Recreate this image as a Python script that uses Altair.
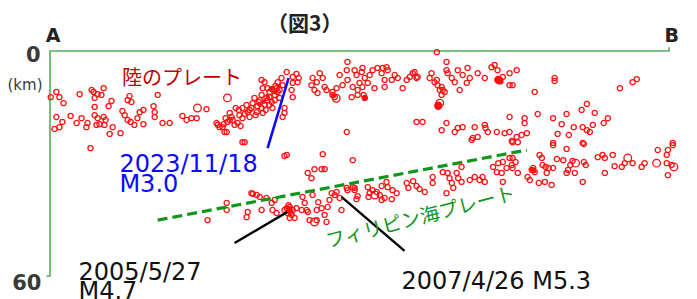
import altair as alt
import pandas as pd

# ---- hypocentres: (distance along A-B in km, depth in km) ----
upper_west = [(0.2,12.3),(1.7,10.9),(2.5,12.3),(3.6,13.9),(7.9,11.5),(11.1,10.4),(11.6,10.9),(12.7,11.5),
              (11.9,12.5),(14.3,9.9),(13.7,11.7),(11.9,14.9),(16.4,13.3),(15.6,14.7),(21.2,12.0),(20.7,13.1),
              (21.7,13.6),(28.7,11.7),(27.6,14.7),(1.7,17.6),(3.3,18.9),(2.5,20.3),(1.2,20.8),(5.5,17.3),
              (7.1,19.2),(8.4,17.9),(10.0,19.2),(9.7,20.3),(11.9,17.1),(12.7,17.9),(14.3,17.6),(14.8,18.4),
              (12.4,19.7),(13.2,19.5),(14.5,19.7),(16.7,20.3),(15.9,22.1),(18.8,21.9),(19.3,16.0),(19.9,17.1),
              (20.7,18.4),(21.5,18.9),(23.3,17.9),(23.9,16.3),(24.9,15.7),(22.5,19.7),(24.9,19.5),(27.9,16.3),
              (27.9,17.6),(30.0,19.2),(31.9,19.2),(35.3,17.3),(36.4,18.4),(37.7,17.9),(39.1,17.9),(10.8,25.9),
              (41.7,15.5)]
upper_cluster = [(44.4,19.2),(45.2,20.3),(46.5,21.6),(46.3,19.5),(47.3,18.9),(48.4,17.6),(47.9,16.5),(48.7,18.4),
                 (50.0,19.2),(50.8,20.0),(49.5,15.2),(50.3,15.7),(51.3,15.2),(52.4,14.4),(53.2,15.7),(54.0,13.9),
                 (55.1,16.3),(54.5,12.5),(55.6,13.6),(56.4,11.7),(56.7,9.9),(57.2,8.3),(56.4,7.7),(57.7,12.5),
                 (58.5,10.9),(59.1,13.6),(59.9,11.7),(60.4,9.9),(60.7,8.3),(61.7,7.2),(62.0,9.1),(61.2,12.5),
                 (62.5,15.2),(62.5,16.5),(62.0,17.6),(63.1,5.6),(64.7,6.9),(65.7,6.1),(66.0,8.3),(64.7,8.5),
                 (64.4,10.4),(64.7,12.3),(66.3,7.2),(51.3,17.9),(53.2,17.6),(51.9,24.3),(44.7,19.7),(46.0,20.3),
                 (47.1,21.6),(47.9,18.4),(55.9,13.1),(57.2,14.4),(58.0,13.1),(58.5,12.3),(59.1,10.1),(59.9,13.1),
                 (60.7,10.9),(56.4,15.2),(55.3,14.7),(57.5,15.7),(58.5,14.4),(61.2,10.4),(60.1,9.3),(58.0,9.9),
                 (53.7,15.2),(52.7,16.3),(51.9,16.8),(50.5,17.1),(54.8,17.1),(56.7,16.5),(59.3,15.2),(49.2,19.7),
                 (46.8,17.9)]
upper_east = [(70.0,7.2),(71.1,8.3),(69.7,9.1),(71.9,5.9),(72.7,7.2),(70.5,10.4),(71.3,11.2),(73.2,9.6),
              (73.7,10.4),(75.3,10.9),(75.3,11.7),(75.9,12.3),(76.4,9.9),(77.2,6.4),(78.0,9.1),(79.1,5.1),
              (79.3,2.9),(79.3,7.7),(80.4,12.3),(80.7,9.6),(81.7,6.4),(82.0,10.4),(79.1,21.6),(81.2,5.1),
              (83.1,5.6),(83.3,4.5),(83.9,7.2),(82.5,8.5),(83.3,9.6),(84.7,8.5),(85.2,6.4),(86.0,5.1),
              (86.5,9.9),(82.0,11.7),(83.6,11.7),(83.9,12.5),(87.3,4.5),(88.4,5.9),(88.7,4.5),(89.7,4.3),
              (90.0,5.1),(89.2,7.7),(89.2,9.6),(91.1,7.7),(91.9,6.4),(92.7,7.2),(94.0,9.9),(95.1,7.7),
              (95.9,6.9),(96.7,5.9),(97.2,5.6),(97.7,7.2),(98.0,6.9),(101.7,5.9),(101.2,7.2),(102.5,8.3),
              (103.1,7.7),(103.3,9.1),(104.4,9.6),(103.9,10.4),(104.7,10.4),(105.2,10.9),(104.4,11.7),(105.7,2.9),
              (105.7,5.1),(106.0,5.9),(107.1,7.2),(107.9,8.3),(108.7,5.1),(109.2,10.4),(110.0,6.4),(111.3,4.5),
              (111.9,7.2),(111.1,8.5),(114.0,5.9),(115.9,7.2),(117.7,4.3),(118.5,3.7),(119.3,5.1),(120.7,6.9),
              (122.5,5.9),(122.5,9.1),(123.3,9.1),(103.1,0.3),(124.4,5.1),(129.2,10.9),(134.5,7.2),(134.5,8.0),
              (151.9,9.9),(155.3,8.3),(156.4,7.5)]
middle_east = [(97.7,18.9),(99.3,18.9),(105.7,19.2),(104.4,21.1),(107.9,21.6),(108.7,20.5),(110.0,20.3),(113.2,20.3),
               (115.9,19.7),(116.1,20.5),(112.7,23.2),(114.0,22.9),(116.7,21.6),(119.1,21.6),(121.2,21.9),(122.5,21.6),
               (122.5,17.6),(123.1,24.0),(126.5,17.9),(126.5,19.2),(130.0,16.8),(134.1,17.9),(136.4,19.5),(137.7,16.8),
               (139.6,20.3),(141.7,15.7),(143.1,14.1),(142.0,20.3),(143.1,21.1),(143.9,21.6),(144.7,19.7),(145.2,16.5),
               (147.6,19.2),(148.7,17.9),(135.3,22.1),(138.3,22.4),(124.4,22.9),(125.7,22.4),(127.1,21.9),(134.1,24.5),
               (142.0,24.5),(166.0,24.5),(112.4,23.7)]
slab_east = [(123.3,24.3),(124.7,24.3),(134.1,25.1),(137.7,26.1),(142.3,24.8),(123.3,28.5),(124.1,29.6),(130.5,27.7),
             (131.1,28.5),(135.1,28.8),(139.3,29.3),(138.7,30.4),(138.1,31.7),(137.7,32.5),(139.9,32.5),(142.3,29.6),
             (142.8,30.4),(142.0,34.9),(146.0,28.3),(147.3,27.7),(147.9,28.5),(150.0,27.7),(147.9,32.5),(150.5,30.7),
             (152.4,30.9),(153.2,29.9),(155.3,29.9),(157.7,30.9),(158.5,29.9),(162.0,26.4),(164.4,27.7),(164.7,26.4),
             (166.0,25.1),(164.4,29.9),(165.7,30.4),(164.7,33.1),(123.3,31.2),(124.7,32.5),(127.3,33.6),(127.9,34.4),
             (128.4,31.7),(128.8,31.2),(129.2,32.3),(131.3,30.4),(132.1,30.9),(132.4,32.5),(132.9,31.2),(134.1,31.2),
             (130.3,35.2),(131.9,34.9),(133.7,35.7),(136.8,29.1)]
slab_middle = [(81.2,36.5),(82.0,38.7),(84.7,36.3),(85.2,37.9),(86.0,37.1),(87.1,37.6),(87.9,38.4),(88.4,36.0),
               (89.7,34.9),(90.0,36.3),(91.3,37.1),(92.4,37.9),(89.2,39.2),(91.1,39.5),(95.1,35.2),(95.5,36.5),
               (96.8,34.7),(97.7,36.0),(98.5,36.8),(99.9,37.6),(102.0,33.6),(102.0,35.2),(104.7,32.3),(106.0,32.5),
               (106.5,33.9),(107.1,35.2),(107.5,36.5),(105.7,37.9),(108.4,32.5),(108.8,33.9),(109.7,34.9),(109.7,30.9),
               (111.9,34.4),(113.2,33.6),(114.5,34.4),(115.3,33.6),(115.9,34.9),(118.1,30.9),(119.1,32.3),(119.5,29.9),
               (120.4,32.5),(120.7,34.9),(120.7,29.6),(121.7,31.2),(122.5,28.5),(123.1,30.4),(88.4,39.7),(81.7,39.5),
               (84.9,38.9)]
slab_west = [(51.3,24.3),(63.1,27.7),(72.7,27.5),(80.7,29.1),(70.5,31.5),(72.4,31.5),(73.2,31.5),(68.7,32.5),
             (69.7,33.9),(42.0,45.1),(47.1,40.5),(47.1,42.4),(52.7,42.9),(52.4,44.3),(53.7,37.9),(55.1,38.4),
             (56.4,42.4),(57.7,39.2),(59.1,40.5),(59.3,42.4),(59.9,39.7),(60.4,43.2),(63.1,41.9),(63.9,41.6),
             (64.7,42.4),(64.4,43.7),(63.3,43.2),(65.2,44.5),(63.9,44.5),(65.7,41.9),(67.3,38.9),(67.9,40.5),
             (67.1,42.4),(68.4,42.4),(68.7,42.9),(70.0,38.4),(69.2,45.1),(71.1,45.1),(71.5,40.3),(71.1,42.4),
             (72.4,41.9),(73.2,43.7),(73.7,45.6),(74.0,41.6),(74.5,39.7),(75.1,37.9),(75.9,38.4),(76.4,37.6),
             (77.2,39.2),(79.1,36.5),(79.3,37.1),(80.7,36.3),(81.2,37.1),(77.7,42.4),(54.1,38.1),(55.9,38.9),
             (62.5,28.0),(62.5,42.4),(63.6,41.1),(64.1,42.9)]
larger_events = [(39.3,15.2),(47.3,12.5),(70.5,45.6),(154.0,28.5),(161.7,29.9),(166.3,30.9),(103.9,13.9),
                 (140.1,29.9),(86.6,38.4),(76.3,12.6)]
dense_spots = [(58.0,12.0),(60.0,11.0),(57.0,13.5),(59.0,10.0),(55.8,14.2),(61.0,9.5),(83.9,12.6),(75.6,11.9),
               (103.5,14.6),(119.5,7.7),(119.9,7.9),(63.5,42.0),(64.0,42.6),(128.6,31.6),(129.0,31.9)]
dense_size = [20, 20, 20, 20, 20, 20, 30, 25, 70, 70, 60, 30, 30, 30, 30]

# ---- annotation geometry (km): polylines as (segment id, dist, depth) ----
frame_path = [("top", 165, -1.0), ("top", 165, 0), ("top", 0, 0), ("top", 0, 60), ("top", -1.0, 60)]
blue_path = [("b", 63.6, 7.2), ("b", 58.0, 25.9)]
black_path = [("e2005", 49.2, 51.2), ("e2005", 63.3, 42.9), ("e2007", 77.7, 38.9), ("e2007", 94.5, 53.3)]
boundary_path = [("p", 28.7, 45.1), ("p", 127.1, 26.4)]

RED = "#ff1010"
GREEN = "#11961a"
FRAME = "#55b055"

W, H = 619, 225
xs = alt.Scale(domain=[0, 165], nice=False, zero=False)
ys = alt.Scale(domain=[0, 60], nice=False, zero=False, reverse=True)


def pts(rows):
    return pd.DataFrame(rows, columns=["dist", "depth"])


def xy():
    return dict(x=alt.X("dist:Q", scale=xs, axis=None), y=alt.Y("depth:Q", scale=ys, axis=None))


def path_layer(rows, **mark):
    df = pd.DataFrame(rows, columns=["seg", "dist", "depth"])
    df["order"] = range(len(df))
    return alt.Chart(df).mark_line(**mark).encode(
        **xy(), detail="seg:N", order="order:Q"
    )


def text_layer(rows, **mark):
    df = pd.DataFrame(rows, columns=["dist", "depth", "label"])
    return alt.Chart(df).mark_text(**mark).encode(**xy(), text="label:N")


all_points = pts(upper_west + upper_cluster + upper_east + middle_east + slab_east + slab_middle + slab_west)
dense_df = pts(dense_spots)
dense_df["size"] = dense_size

frame = path_layer(frame_path, color=FRAME, strokeWidth=1.6)
quakes = alt.Chart(all_points).mark_point(shape="circle", filled=False, color=RED, strokeWidth=1.3,
                                          size=27, opacity=1).encode(**xy())
big = alt.Chart(pts(larger_events)).mark_point(shape="circle", filled=False, color=RED, strokeWidth=1.3,
                                               size=58, opacity=1).encode(**xy())
dense = alt.Chart(dense_df).mark_point(shape="circle", filled=True, color=RED, opacity=1).encode(
    **xy(), size=alt.Size("size:Q", scale=None, legend=None)
)

boundary = path_layer(boundary_path, color=GREEN, strokeWidth=3.2, strokeDash=[10, 5])
blue = path_layer(blue_path, color="#0a0aff", strokeWidth=2.6)
black = path_layer(black_path, color="#000000", strokeWidth=2.4)

title = text_layer([(67.9, -6.9, "（図3）")], font="Noto Sans CJK JP", fontSize=21, fontWeight="bold",
                   color="#222222", align="center", baseline="middle")
ab = text_layer([(0.8, -2.4, "A"), (165.7, -2.4, "B")], font="DejaVu Sans", fontSize=19, fontWeight="bold",
                color="#222222", align="center", baseline="alphabetic")
ticks = text_layer([(-2.5, 2.9, "0"), (-2.3, 63.7, "60")], font="DejaVu Sans", fontSize=21, fontWeight="bold",
                   color="#3a3a3a", align="right", baseline="alphabetic")
km = text_layer([(-2.0, 10.4, "(km)")], font="DejaVu Sans", fontSize=15, color="#3a3a3a",
                align="right", baseline="alphabetic")
land = text_layer([(35.2, 7.5, "陸のプレート")], font="Noto Sans CJK JP", fontSize=20, color="#c00000",
                  align="center", baseline="middle")
ev2023 = text_layer([(18.5, 32.3, "2023/11/18"), (18.5, 37.6, "M3.0")], font="DejaVu Sans", fontSize=24,
                    color="#0a0aff", align="left", baseline="alphabetic")
ev_black = text_layer([(7.6, 61.1, "2005/5/27"), (7.6, 66.1, "M4.7"), (93.7, 63.5, "2007/4/26 M5.3")],
                      font="DejaVu Sans", fontSize=24, color="#111111", align="left", baseline="alphabetic")
phil = text_layer([(98.8, 44.5, "フィリピン海プレート")], font="Noto Sans CJK JP", fontSize=19.5, color=GREEN,
                  align="center", baseline="middle", angle=345.5)

chart = alt.layer(
    frame, quakes, big, dense, boundary, blue, black,
    title, ab, ticks, km, land, ev2023, ev_black, phil,
).properties(
    width=W, height=H,
    background="white",
    view=alt.ViewBackground(stroke="transparent", strokeWidth=0),
    autosize=alt.AutoSizeParams(type="none"),
    padding={"left": 42, "top": 43, "right": 20, "bottom": 23},
).configure_view(stroke="transparent", strokeWidth=0)

chart.save("out.html", embed_options={"renderer": "svg", "actions": False})
